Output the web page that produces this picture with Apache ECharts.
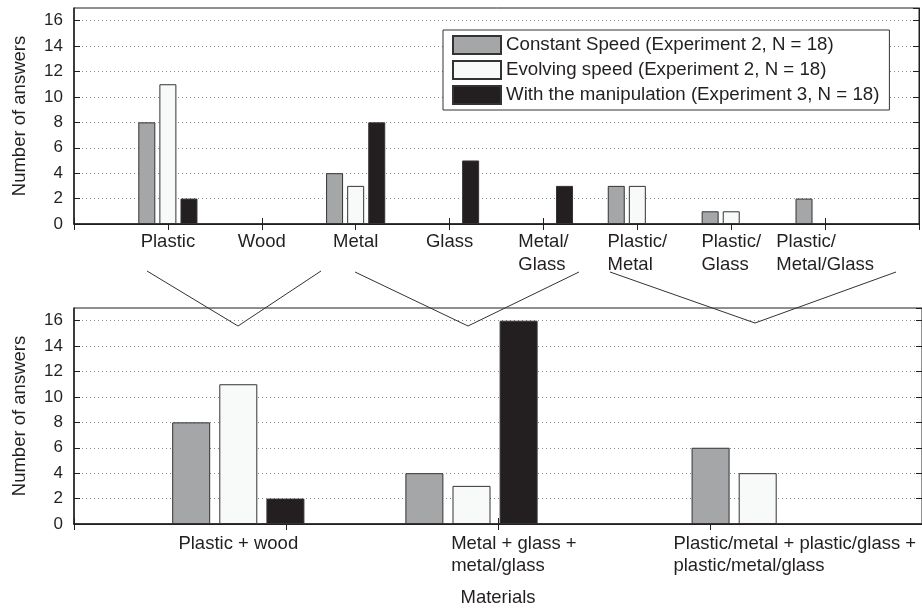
<!DOCTYPE html>
<html>
<head>
<meta charset="utf-8">
<script src="https://cdn.jsdelivr.net/npm/echarts@6/dist/echarts.min.js"></script>
<style>
html, body { margin: 0; padding: 0; background: #fff; }
#chart { width: 922px; height: 608px; }
</style>
</head>
<body>
<div id="chart"></div>
<script>
// top panel: single materials
var topCats = ["Plastic", "Wood", "Metal", "Glass", "Metal/\nGlass", "Plastic/\nMetal", "Plastic/\nGlass", "Plastic/\nMetal/Glass"];
var topConstant = [8, 0, 4, 0, 0, 3, 1, 2];
var topEvolving = [11, 0, 3, 0, 0, 3, 1, 0];
var topManip = [2, 0, 8, 5, 3, 0, 0, 0];

// bottom panel: grouped materials
var bottomCats = ["Plastic + wood", "Metal + glass +\nmetal/glass", "Plastic/metal + plastic/glass +\nplastic/metal/glass"];
var bottomConstant = [8, 4, 6];
var bottomEvolving = [11, 3, 4];
var bottomManip = [2, 16, 0];

var seriesNames = [
  "Constant Speed (Experiment 2, N = 18)",
  "Evolving speed (Experiment 2, N = 18)",
  "With the manipulation (Experiment 3, N = 18)"
];

// bottom axis is split in fine slots (40 per tick) so groups sit where the figure puts them
var slotsPerTick = 40;
var slotCount = 4 * slotsPerTick + 1;
var barSlot = [31, 75, 129];
var labelSlot = [31, 83, 136];

var ink = "#231f20";
var font = "'Liberation Sans', Arial, sans-serif";
var txt = 18.5;
var colors = ["#a4a6a8", "#f8faf9", "#231f20"];

var topAxisData = [""].concat(topCats, [""]);
var bottomAxisData = [];
for (var i = 0; i < slotCount; i++) bottomAxisData.push("");
for (var j = 0; j < bottomCats.length; j++) bottomAxisData[labelSlot[j]] = bottomCats[j];

function leftLines(v) {
  if (!v) return "";
  return v.split("\n").map(function (s) { return "{l|" + s + "}"; }).join("\n");
}

function xAxisBase(grid, data, pos) {
  return {
    type: "category",
    gridIndex: grid,
    position: pos,
    data: data,
    boundaryGap: false,
    axisLine: { show: true, lineStyle: { color: ink, width: pos === "top" ? 1 : 1.5 } },
    axisTick: { show: true, inside: true, length: 6, lineStyle: { color: ink } },
    splitLine: { show: false }
  };
}

function yAxisBase(grid, pos) {
  return {
    type: "value",
    gridIndex: grid,
    position: pos,
    min: 0,
    max: 17,
    interval: 2,
    axisLine: { show: true, lineStyle: { color: ink, width: pos === "left" ? 1.5 : 1 } },
    axisTick: { show: true, inside: true, length: 6, lineStyle: { color: ink } },
    axisLabel: pos === "left" ? {
      show: true, showMaxLabel: false, margin: 11,
      color: ink, fontSize: 17, fontFamily: font
    } : { show: false },
    splitLine: pos === "left" ? {
      show: true, lineStyle: { color: "#8a8a8a", type: [1, 3], width: 1 }
    } : { show: false },
    name: pos === "left" ? "Number of answers" : "",
    nameLocation: "middle",
    nameGap: 45,
    nameTextStyle: { color: ink, fontSize: txt, fontFamily: font }
  };
}

var xTop = xAxisBase(0, topAxisData, "bottom");
xTop.axisLabel = {
  interval: 0, margin: 6, color: ink, fontSize: txt, fontFamily: font,
  formatter: leftLines,
  rich: { l: { align: "left", fontSize: txt, lineHeight: 23, color: ink, fontFamily: font } }
};
var xTopMirror = xAxisBase(0, topAxisData, "top");
xTopMirror.axisLabel = { show: false };

var xBottom = xAxisBase(1, bottomAxisData, "bottom");
xBottom.axisTick.interval = function (idx) { return idx % slotsPerTick === 0; };
xBottom.axisLabel = {
  interval: function (idx, val) { return val !== ""; },
  margin: 9, color: ink, fontSize: txt, fontFamily: font,
  formatter: leftLines,
  rich: { l: { align: "left", fontSize: txt, lineHeight: 22, color: ink, fontFamily: font } }
};
xBottom.name = "Materials";
xBottom.nameLocation = "middle";
xBottom.nameGap = 64;
xBottom.nameTextStyle = { color: ink, fontSize: txt, fontFamily: font };
var xBottomMirror = xAxisBase(1, bottomAxisData, "top");
xBottomMirror.axisTick.interval = xBottom.axisTick.interval;
xBottomMirror.axisLabel = { show: false };

// empty answers draw no bar
function pick(v) { return v === 0 ? "-" : v; }

function topSeries(k, values) {
  return {
    name: seriesNames[k],
    type: "bar",
    xAxisIndex: 0,
    yAxisIndex: 0,
    barWidth: 17,
    barGap: "24%",
    itemStyle: { color: colors[k], borderColor: "#333", borderWidth: 1 },
    data: values.map(function (v, i) { return [i + 1, pick(v)]; })
  };
}

function bottomSeries(k, values) {
  return {
    name: seriesNames[k],
    type: "bar",
    xAxisIndex: 2,
    yAxisIndex: 2,
    barWidth: 38,
    barGap: "24%",
    itemStyle: { color: colors[k], borderColor: "#333", borderWidth: 1 },
    data: values.map(function (v, i) { return [barSlot[i], pick(v)]; })
  };
}

function vLine(a, b, c) {
  return {
    type: "polyline",
    z: 100,
    shape: { points: [a, b, c] },
    style: { stroke: "#333", lineWidth: 1, fill: null }
  };
}

var myChart = echarts.init(document.getElementById("chart"), null, { renderer: "canvas" });
myChart.setOption({
  animation: false,
  backgroundColor: "#fff",
  textStyle: { fontFamily: font },
  grid: [
    { left: 74, right: -4, top: 8, height: 216, show: true, borderColor: ink, borderWidth: 1 },
    { left: 74, right: -4, top: 308, height: 216, show: true, borderColor: ink, borderWidth: 1 }
  ],
  legend: {
    orient: "vertical",
    left: 443,
    top: 30,
    padding: [5, 10, 5, 9],
    itemWidth: 48,
    itemHeight: 18,
    itemGap: 5,
    icon: "rect",
    backgroundColor: "#fff",
    borderColor: "#333",
    borderWidth: 1,
    textStyle: { color: ink, fontSize: 18.7, fontFamily: font },
    data: seriesNames
  },
  xAxis: [xTop, xTopMirror, xBottom, xBottomMirror],
  yAxis: [yAxisBase(0, "left"), yAxisBase(0, "right"), yAxisBase(1, "left"), yAxisBase(1, "right")],
  series: [
    topSeries(0, topConstant),
    topSeries(1, topEvolving),
    topSeries(2, topManip),
    bottomSeries(0, bottomConstant),
    bottomSeries(1, bottomEvolving),
    bottomSeries(2, bottomManip)
  ],
  graphic: [
    vLine([147, 271], [238, 326], [321, 271]),
    vLine([355, 272], [468, 326], [579, 272]),
    vLine([610, 272], [755, 323], [896, 272])
  ]
});
</script>
</body>
</html>
